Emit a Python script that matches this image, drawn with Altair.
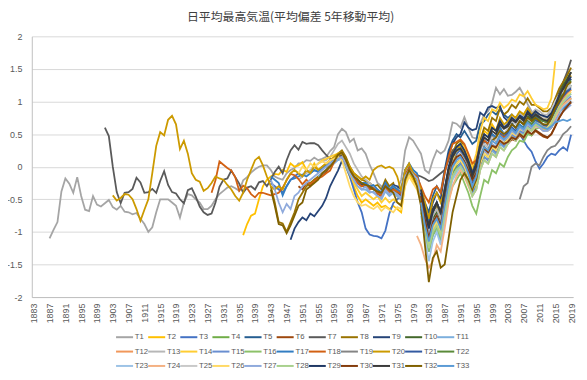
import altair as alt
import pandas as pd

# ---------------- data ----------------
names = ["T%d" % i for i in range(1, 34)]
colors = ["#A5A5A5", "#FFC000", "#4472C4", "#70AD47", "#255E91", "#9E480E", "#5A5A5A",
          "#997300", "#264478", "#43682B", "#7CAFDD", "#F1975A", "#B7B7B7", "#FFCD33",
          "#698ED0", "#8CC168", "#327DC2", "#D26012", "#848484", "#CC9A00", "#335AA1",
          "#5A8A39", "#9DC3E6", "#F4B183", "#C9C9C9", "#FFD966", "#8FAADC", "#A9D18E",
          "#1F3864", "#843C0C", "#3A3A3A", "#7F6000", "#5B9BD5"]

tick_years = [1883, 1887, 1891, 1895, 1899, 1903, 1907, 1911, 1915, 1919, 1923, 1927,
              1931, 1935, 1939, 1943, 1947, 1951, 1955, 1959, 1963, 1967, 1971, 1975,
              1979, 1983, 1987, 1991, 1995, 1999, 2003, 2007, 2011, 2015, 2019]
y_ticks = [-2, -1.5, -1, -0.5, 0, 0.5, 1, 1.5, 2]

start_year = {"T1": 1887, "T2": 1936, "T3": 1943, "T4": 1981, "T5": 1960, "T6": 1950,
              "T7": 1901, "T8": 1943, "T9": 1948, "T10": 1981, "T11": 1955, "T12": 1981,
              "T13": 1950, "T14": 1955, "T15": 1981, "T16": 1981, "T17": 1943, "T18": 1928,
              "T19": 2006, "T20": 1903, "T21": 1982, "T22": 1982, "T23": 1981, "T24": 1980,
              "T25": 1981, "T26": 1950, "T27": 1943, "T28": 1982, "T29": 1981, "T30": 1981,
              "T31": 1981, "T32": 1943, "T33": 1981}

t1 = [-1.10, -0.97, -0.85,
      -0.38, -0.18, -0.26, -0.40, -0.16, -0.45, -0.66, -0.68, -0.45, -0.58,
      -0.61, -0.56, -0.51, -0.62, -0.66, -0.60, -0.69, -0.70, -0.73, -0.71,
      -0.80, -0.88, -1.00, -0.93, -0.70, -0.50, -0.50, -0.50, -0.55, -0.60,
      -0.78, -0.55, -0.42, -0.44, -0.50, -0.55, -0.65, -0.65, -0.60, -0.50,
      -0.42, -0.37, -0.32, -0.30, -0.33, -0.37, -0.21, -0.16, -0.09, -0.04,
      0.00, 0.02, 0.02, -0.05, -0.15, -0.18, -0.20, -0.10, -0.05, -0.02,
      0.05, 0.05, 0.10, 0.09, 0.14, 0.10, 0.12, 0.15, 0.24, 0.30,
      0.50, 0.58, 0.53, 0.38, 0.43, 0.25, 0.28, 0.20, 0.03, -0.10,
      -0.25, -0.30, -0.35, -0.40, -0.38, -0.35, -0.20, 0.25, 0.45, 0.40,
      0.30, 0.20, -0.05, -0.10, 0.10, 0.25, 0.20, 0.25, 0.40, 0.68,
      0.66, 0.60, 0.76, 0.60, 0.45, 0.43, 0.66, 0.80, 0.85, 0.98,
      1.21, 1.11, 1.19, 1.09, 1.10, 1.15, 1.21, 1.10, 0.96, 0.85,
      0.80, 0.78, 0.75, 0.72, 0.70, 0.85, 0.95, 1.05, 1.15, 1.22]
t2 = [-1.05, -0.88, -0.75, -0.72,
      -0.50, -0.30, -0.20, -0.15, -0.11, -0.12, -0.05, -0.08, 0.05, 0.00,
      0.02, 0.07, -0.05, -0.09, 0.05, -0.05, 0.00, 0.05, 0.10, 0.12,
      0.18, 0.20, 0.00, -0.15, -0.30, -0.45, -0.55, -0.50, -0.55, -0.60,
      -0.55, -0.62, -0.60, -0.65, -0.60, -0.65, -0.70, -0.25, -0.10, -0.20,
      -0.30, -0.50, -0.80, -1.10, -0.80, -0.70, -0.90, -0.55, -0.20, 0.05,
      0.20, 0.30, 0.20, 0.00, -0.20, 0.00, 0.35, 0.55, 0.50, 0.65,
      0.55, 0.70, 0.62, 0.68, 0.78, 0.74, 0.84, 0.80, 0.90, 0.82,
      0.80, 0.78, 0.74, 0.74, 0.85, 0.90, 0.98, 1.05, 1.12, 1.18]
t3 = [-0.25, -0.30, -0.35, -0.40, -0.30, -0.20, -0.15,
      -0.10, -0.15, -0.05, -0.10, -0.05, -0.08, -0.02, 0.00, 0.05, 0.10,
      0.15, 0.15, 0.00, -0.15, -0.35, -0.55, -0.70, -0.95, -1.04, -1.06,
      -1.07, -1.10, -0.98, -0.72, -0.56, -0.50, -0.45, -0.15, -0.05, -0.10,
      -0.15, -0.40, -0.70, -0.95, -0.70, -0.55, -0.75, -0.40, -0.10, 0.10,
      0.20, 0.25, 0.15, 0.00, -0.20, -0.05, 0.25, 0.40, 0.35, 0.50,
      0.45, 0.55, 0.50, 0.55, 0.60, 0.55, 0.50, 0.40, 0.30, 0.23,
      0.08, -0.03, 0.05, 0.15, 0.20, 0.18, 0.25, 0.30, 0.25, 0.49]
t4 = [-0.55, -0.90, -1.20, -0.95, -0.85, -1.00, -0.70, -0.35, -0.10, 0.00,
      0.05, -0.05, -0.20, -0.40, -0.30, 0.00, 0.15, 0.10, 0.25, 0.20,
      0.35, 0.30, 0.40, 0.50, 0.45, 0.55, 0.50, 0.65, 0.60, 0.70,
      0.68, 0.65, 0.62, 0.70, 0.85, 1.00, 1.10, 1.20, 1.25]
t5 = [0.10, 0.15, 0.05, -0.05, -0.15, -0.22, -0.30, -0.28, -0.32, -0.35,
      -0.38, -0.42, -0.28, -0.38, -0.32, -0.38, -0.45, -0.10, 0.00, -0.05,
      -0.15, -0.35, -0.55, -0.70, -0.45, -0.30, -0.40, -0.05, 0.25, 0.40,
      0.50, 0.45, 0.55, 0.45, 0.35, 0.40, 0.65, 0.70, 0.80, 0.85,
      0.80, 0.88, 0.80, 0.75, 0.80, 0.72, 0.75, 0.70, 0.78, 0.72,
      0.78, 0.72, 0.70, 0.70, 0.75, 0.88, 1.00, 1.10, 1.18, 1.25]
t6 = [-0.30, -0.35, -0.25, -0.30, -0.20, -0.18, -0.12, -0.08, 0.00, 0.08,
      0.15, 0.12, 0.02, -0.10, -0.20, -0.25, -0.30, -0.28, -0.35, -0.32,
      -0.42, -0.45, -0.30, -0.42, -0.35, -0.40, -0.48, -0.15, -0.05, -0.15,
      -0.25, -0.45, -0.80, -1.10, -0.85, -0.75, -0.90, -0.55, -0.20, 0.05,
      0.15, 0.20, 0.10, -0.05, -0.20, -0.10, 0.15, 0.25, 0.20, 0.30,
      0.28, 0.38, 0.32, 0.35, 0.42, 0.40, 0.48, 0.44, 0.52, 0.48,
      0.55, 0.50, 0.46, 0.44, 0.50, 0.62, 0.75, 0.85, 0.92, 0.98]
t7 = [0.60, 0.47, 0.00, -0.39, -0.56, -0.40, -0.39, -0.34, -0.17,
      -0.24, -0.40, -0.39, -0.34, -0.40, -0.22, -0.07, -0.28, -0.39, -0.41,
      -0.50, -0.56, -0.36, -0.33, -0.46, -0.61, -0.70, -0.74, -0.72, -0.55,
      -0.31, -0.20, -0.18, -0.06, -0.16, -0.26, -0.40, -0.32, -0.30, -0.35,
      -0.24, -0.22, -0.30, -0.20, -0.08, 0.00, -0.10, 0.10, 0.25, 0.33,
      0.26, 0.38, 0.35, 0.36, 0.36, 0.33, 0.25, 0.18, 0.12, 0.10,
      0.15, 0.18, 0.10, -0.05, -0.15, -0.22, -0.28, -0.25, -0.32, -0.30,
      -0.38, -0.40, -0.25, -0.35, -0.30, -0.35, -0.40, -0.10, 0.00, -0.08,
      -0.13, -0.15, -0.18, -0.22, -0.20, -0.15, -0.10, -0.05, 0.10, 0.25,
      0.30, 0.35, 0.25, 0.10, -0.05, 0.05, 0.30, 0.40, 0.35, 0.50,
      0.45, 0.60, 0.50, 0.55, 0.65, 0.60, 0.70, 0.65, 0.80, 0.70,
      0.80, 0.75, 0.70, 0.68, 0.75, 0.95, 1.15, 1.30, 1.45, 1.64]
t8 = [-0.30, -0.55, -0.85, -0.87, -1.00, -0.85, -0.70,
      -0.50, -0.40, -0.30, -0.25, -0.20, -0.15, -0.10, -0.05, 0.05, 0.10,
      0.20, 0.25, 0.15, 0.00, -0.10, -0.15, -0.20, -0.22, -0.25, -0.30,
      -0.28, -0.35, -0.20, -0.30, -0.25, -0.45, -0.50, -0.15, 0.00, -0.05,
      -0.15, -0.35, -0.70, -1.00, -0.70, -0.60, -0.75, -0.35, -0.05, 0.20,
      0.35, 0.40, 0.30, 0.15, -0.05, 0.10, 0.40, 0.60, 0.55, 0.75,
      0.70, 0.90, 0.80, 0.85, 0.95, 0.90, 1.00, 0.95, 1.05, 0.95,
      0.95, 0.90, 0.85, 0.85, 0.90, 1.05, 1.20, 1.30, 1.40, 1.52]
t9 = [-1.12, -0.95,
      -0.85, -0.78, -0.82, -0.72, -0.76, -0.68, -0.60, -0.48, -0.30, -0.18,
      -0.06, 0.09, 0.10, -0.05, -0.15, -0.20, -0.28, -0.30, -0.35, -0.30,
      -0.40, -0.38, -0.25, -0.35, -0.28, -0.30, -0.35, -0.05, 0.02, -0.10,
      -0.20, -0.35, -0.60, -0.80, -0.55, -0.40, -0.50, -0.10, 0.20, 0.35,
      0.45, 0.50, 0.68, 0.60, 0.56, 0.58, 0.83, 0.78, 0.91, 0.93,
      0.90, 0.93, 0.76, 0.70, 0.66, 0.70, 0.80, 0.75, 0.85, 0.78,
      0.82, 0.78, 0.75, 0.75, 0.80, 0.95, 1.05, 1.15, 1.25, 1.35]
t10 = [-0.45, -0.75, -1.05, -0.80, -0.70, -0.85, -0.55, -0.20, 0.05, 0.15,
       0.20, 0.10, -0.05, -0.25, -0.10, 0.20, 0.35, 0.30, 0.45, 0.40,
       0.55, 0.50, 0.55, 0.65, 0.60, 0.70, 0.65, 0.78, 0.72, 0.80,
       0.76, 0.72, 0.70, 0.78, 0.95, 1.10, 1.25, 1.35, 1.45]
t11 = [-0.15, -0.10, -0.05, 0.00, 0.05,
       0.10, 0.12, 0.00, -0.12, -0.22, -0.30, -0.35, -0.35, -0.40, -0.38,
       -0.45, -0.50, -0.38, -0.45, -0.40, -0.45, -0.50, -0.20, -0.08, -0.15,
       -0.25, -0.55, -0.95, -1.30, -1.05, -0.95, -1.15, -0.75, -0.40, -0.15,
       -0.05, 0.05, -0.05, -0.20, -0.40, -0.30, 0.00, 0.15, 0.10, 0.25,
       0.20, 0.35, 0.30, 0.38, 0.48, 0.44, 0.54, 0.50, 0.62, 0.58,
       0.66, 0.64, 0.60, 0.58, 0.66, 0.80, 0.92, 1.00, 1.06, 1.12]
t12 = [-0.60, -0.95, -1.25, -1.00, -0.90, -1.05, -0.65, -0.30, -0.05, 0.05,
       0.10, 0.00, -0.15, -0.30, -0.20, 0.10, 0.25, 0.20, 0.35, 0.30,
       0.45, 0.40, 0.45, 0.55, 0.50, 0.60, 0.55, 0.68, 0.62, 0.70,
       0.66, 0.62, 0.60, 0.68, 0.82, 0.95, 1.05, 1.12, 1.18]
t13 = [-0.20, -0.15, -0.10, -0.05, 0.00, 0.05, 0.08, 0.10, 0.15, 0.25,
       0.35, 0.40, 0.30, 0.20, 0.05, -0.05, -0.15, -0.20, -0.25, -0.30,
       -0.35, -0.40, -0.28, -0.35, -0.30, -0.35, -0.40, -0.10, 0.05, -0.05,
       -0.15, -0.40, -0.75, -1.00, -0.75, -0.65, -0.80, -0.45, -0.10, 0.15,
       0.25, 0.30, 0.20, 0.05, -0.10, 0.05, 0.35, 0.50, 0.45, 0.60,
       0.55, 0.70, 0.62, 0.68, 0.78, 0.72, 0.82, 0.78, 0.88, 0.82,
       0.88, 0.85, 0.80, 0.80, 0.88, 1.00, 1.10, 1.15, 1.20, 1.25]
t14 = [0.05, 0.10, 0.12, 0.15, 0.18,
       0.20, 0.22, 0.05, -0.10, -0.25, -0.35, -0.45, -0.40, -0.45, -0.50,
       -0.45, -0.55, -0.48, -0.55, -0.50, -0.55, -0.58, -0.20, -0.05, -0.15,
       -0.25, -0.50, -0.85, -1.15, -0.90, -0.80, -0.95, -0.55, -0.15, 0.10,
       0.25, 0.35, 0.30, 0.15, 0.00, 0.20, 0.55, 0.75, 0.70, 0.88,
       0.85, 0.98, 0.90, 0.95, 1.03, 1.00, 1.11, 1.08, 1.16, 1.05,
       0.95, 0.92, 0.88, 0.90, 1.05, 1.62]
t15 = [-0.65, -1.00, -1.30, -1.05, -0.95, -1.10, -0.75, -0.40, -0.15, -0.05,
       0.05, -0.05, -0.20, -0.40, -0.30, 0.00, 0.15, 0.10, 0.28, 0.22,
       0.38, 0.32, 0.40, 0.50, 0.45, 0.55, 0.52, 0.62, 0.58, 0.66,
       0.62, 0.58, 0.56, 0.62, 0.75, 0.88, 0.96, 1.02, 1.08]
t16 = [-0.70, -1.00, -1.30, -1.05, -0.95, -1.10, -0.85, -0.50, -0.30, -0.20,
       -0.10, -0.25, -0.40, -0.60, -0.72, -0.45, -0.20, -0.25, -0.05, -0.10,
       0.05, 0.00, 0.15, 0.25, 0.30, 0.40, 0.38, 0.50, 0.48, 0.58,
       0.60, 0.58, 0.55, 0.60, 0.75, 0.85, 0.95, 1.00, 1.05]
t17 = [-0.15, -0.20, -0.25, -0.44, -0.30, -0.20, -0.18,
       -0.15, -0.12, -0.15, -0.10, -0.05, -0.08, 0.00, 0.02, 0.05, 0.10,
       0.15, 0.15, 0.05, -0.05, -0.15, -0.22, -0.25, -0.25, -0.30, -0.28,
       -0.35, -0.40, -0.25, -0.35, -0.30, -0.35, -0.40, -0.05, 0.05, -0.05,
       -0.10, -0.35, -0.65, -0.85, -0.65, -0.55, -0.70, -0.35, -0.05, 0.15,
       0.25, 0.30, 0.20, 0.05, -0.15, 0.00, 0.30, 0.45, 0.40, 0.50,
       0.45, 0.60, 0.50, 0.55, 0.65, 0.60, 0.65, 0.60, 0.70, 0.65,
       0.70, 0.65, 0.60, 0.60, 0.65, 0.75, 0.85, 0.90, 0.95, 1.00]
t18 = [-0.40, -0.21,
       0.08, 0.03, -0.02, -0.06, -0.16, -0.37, -0.29, -0.33, -0.42, -0.47,
       -0.40, -0.40, -0.42, -0.44, -0.42, -0.40, -0.32, -0.21, -0.11, -0.13,
       -0.19, -0.27, -0.20, -0.27, -0.22, -0.18, -0.15, -0.10, -0.06, 0.07,
       0.14, 0.15, 0.05, -0.05, -0.15, -0.25, -0.30, -0.28, -0.35, -0.33,
       -0.40, -0.45, -0.30, -0.40, -0.35, -0.38, -0.42, -0.12, -0.02, -0.10,
       -0.15, -0.30, -0.45, -0.55, -0.35, -0.30, -0.40, -0.10, 0.15, 0.35,
       0.38, 0.42, 0.35, 0.20, 0.05, 0.10, 0.30, 0.40, 0.35, 0.45,
       0.40, 0.50, 0.45, 0.50, 0.55, 0.50, 0.60, 0.55, 0.65, 0.60,
       0.65, 0.60, 0.55, 0.55, 0.60, 0.70, 0.85, 0.95, 1.00, 1.05]
t19 = [-0.50, -0.30, -0.25, 0.00, 0.05, 0.02, 0.15, 0.25, 0.30, 0.32, 0.40, 0.50, 0.55, 0.62]
t20 = [-0.44, -0.52, -0.48, -0.42, -0.43, -0.50, -0.65,
       -0.83, -0.66, -0.50, -0.10, 0.32, 0.53, 0.48, 0.72, 0.78, 0.65,
       0.27, 0.40, 0.20, -0.10, -0.20, -0.23, -0.37, -0.33, -0.25, -0.15,
       -0.18, -0.20, -0.28, -0.35, -0.45, -0.52, -0.40, -0.20, -0.05, 0.10,
       0.15, 0.02, -0.15, -0.30, -0.35, -0.30, -0.35, -0.20, -0.10, -0.05,
       -0.10, -0.15, -0.05, -0.10, 0.00, -0.05, 0.00, 0.05, 0.10, 0.15,
       0.20, 0.22, 0.10, 0.00, -0.10, -0.15, -0.20, -0.15, -0.20, -0.05,
       0.00, 0.02, -0.02, 0.00, -0.03, -0.15, -0.38, -0.05, 0.05, -0.10,
       -0.20, -0.35, -0.55, -0.80, -0.50, -0.40, -0.55, -0.35, -0.05, 0.20,
       0.30, 0.30, 0.20, 0.05, -0.15, 0.00, 0.35, 0.50, 0.45, 0.60,
       0.55, 0.75, 0.65, 0.70, 0.80, 0.75, 0.85, 0.80, 0.90, 0.80,
       0.85, 0.80, 0.75, 0.75, 0.80, 0.95, 1.10, 1.20, 1.30, 1.40]
t21 = [-0.80, -1.15, -0.85, -0.75, -0.90, -0.55, -0.20, 0.05, 0.15,
       0.20, 0.10, -0.05, -0.25, -0.10, 0.20, 0.35, 0.30, 0.45, 0.40,
       0.52, 0.48, 0.52, 0.60, 0.55, 0.62, 0.58, 0.70, 0.65, 0.72,
       0.68, 0.64, 0.62, 0.70, 0.85, 0.98, 1.08, 1.15, 1.20]
t22 = [-0.70, -1.10, -0.85, -0.80, -0.95, -0.60, -0.30, -0.05, 0.05,
       0.10, 0.00, -0.15, -0.35, -0.25, 0.05, 0.20, 0.15, 0.30, 0.25,
       0.40, 0.35, 0.45, 0.55, 0.50, 0.62, 0.58, 0.70, 0.65, 0.75,
       0.72, 0.70, 0.68, 0.75, 0.90, 1.05, 1.15, 1.25, 1.32]
t23 = [-0.75, -1.10, -1.45, -1.15, -1.00, -1.20, -0.85, -0.45, -0.20, -0.10,
       0.00, -0.10, -0.25, -0.45, -0.35, -0.05, 0.10, 0.05, 0.20, 0.15,
       0.30, 0.25, 0.35, 0.45, 0.40, 0.50, 0.45, 0.58, 0.55, 0.62,
       0.60, 0.55, 0.55, 0.62, 0.75, 0.85, 0.92, 0.98, 1.02]
t24 = [-1.06,
       -1.20, -1.41, -1.55, -1.45, -1.20, -1.30, -0.95, -0.55, -0.30, -0.15,
       -0.05, -0.15, -0.30, -0.45, -0.35, -0.05, 0.10, 0.05, 0.20, 0.15,
       0.30, 0.25, 0.35, 0.45, 0.40, 0.50, 0.45, 0.58, 0.55, 0.62,
       0.60, 0.56, 0.55, 0.62, 0.75, 0.88, 0.95, 1.00, 1.05]
t25 = [-0.50, -0.85, -1.10, -0.85, -0.75, -0.90, -0.55, -0.20, 0.05, 0.15,
       0.20, 0.10, -0.05, -0.20, -0.10, 0.20, 0.35, 0.30, 0.45, 0.40,
       0.55, 0.50, 0.60, 0.70, 0.65, 0.75, 0.70, 0.82, 0.76, 0.85,
       0.80, 0.75, 0.75, 0.85, 1.00, 1.10, 1.15, 1.20, 1.25]
t26 = [-0.10, 0.00, -0.05, 0.05, 0.00, 0.05, 0.08, 0.05, 0.10, 0.12,
       0.15, 0.10, -0.10, -0.30, -0.45, -0.55, -0.60, -0.58, -0.62, -0.65,
       -0.60, -0.68, -0.62, -0.66, -0.70, -0.62, -0.65, -0.30, -0.15, -0.25,
       -0.35, -0.55, -0.90, -1.20, -0.95, -0.85, -1.00, -0.65, -0.30, -0.05,
       0.05, 0.10, 0.00, -0.15, -0.35, -0.25, 0.05, 0.20, 0.15, 0.30,
       0.25, 0.40, 0.35, 0.42, 0.52, 0.48, 0.58, 0.55, 0.65, 0.60,
       0.68, 0.65, 0.60, 0.60, 0.68, 0.80, 0.92, 1.00, 1.08, 1.15]
t27 = [-0.20, -0.35, -0.55, -0.70, -0.57, -0.65, -0.45,
       -0.40, -0.30, -0.25, -0.20, -0.15, -0.10, -0.05, 0.00, 0.05, 0.10,
       0.12, 0.15, 0.05, -0.10, -0.20, -0.30, -0.35, -0.30, -0.38, -0.40,
       -0.45, -0.48, -0.35, -0.42, -0.38, -0.42, -0.48, -0.15, -0.05, -0.12,
       -0.18, -0.45, -0.80, -1.05, -0.85, -0.75, -0.95, -0.60, -0.25, 0.00,
       0.10, 0.15, 0.05, -0.10, -0.30, -0.20, 0.10, 0.25, 0.20, 0.35,
       0.30, 0.45, 0.40, 0.45, 0.55, 0.50, 0.60, 0.55, 0.65, 0.60,
       0.65, 0.60, 0.55, 0.55, 0.60, 0.70, 0.80, 0.85, 0.90, 0.95]
t28 = [-0.85, -1.25, -1.00, -0.90, -1.05, -0.75, -0.40, -0.15, -0.05,
       0.00, -0.10, -0.25, -0.45, -0.35, -0.05, 0.10, 0.05, 0.20, 0.15,
       0.30, 0.25, 0.35, 0.45, 0.40, 0.50, 0.48, 0.60, 0.55, 0.65,
       0.62, 0.60, 0.58, 0.65, 0.80, 0.90, 1.00, 1.08, 1.12]
t29 = [-0.40, -0.70, -0.95, -0.70, -0.55, -0.70, -0.35, 0.00, 0.20, 0.30,
       0.35, 0.25, 0.10, -0.10, 0.05, 0.35, 0.50, 0.45, 0.60, 0.55,
       0.70, 0.60, 0.65, 0.75, 0.70, 0.78, 0.72, 0.85, 0.78, 0.85,
       0.80, 0.78, 0.76, 0.82, 0.95, 1.10, 1.20, 1.30, 1.38]
t30 = [-0.45, -0.80, -1.10, -0.85, -0.75, -0.90, -0.55, -0.20, 0.05, 0.15,
       0.18, 0.08, -0.05, -0.20, -0.10, 0.15, 0.28, 0.22, 0.32, 0.30,
       0.40, 0.35, 0.38, 0.45, 0.42, 0.50, 0.45, 0.55, 0.50, 0.56,
       0.52, 0.48, 0.45, 0.50, 0.62, 0.75, 0.85, 0.92, 1.00]
t31 = [-0.35, -0.65, -0.90, -0.65, -0.55, -0.70, -0.40, -0.05, 0.15, 0.25,
       0.28, 0.18, 0.05, -0.15, 0.00, 0.30, 0.45, 0.40, 0.55, 0.50,
       0.65, 0.58, 0.62, 0.72, 0.68, 0.76, 0.70, 0.82, 0.75, 0.80,
       0.76, 0.72, 0.70, 0.78, 0.92, 1.08, 1.20, 1.32, 1.45]
t32 = [-0.35, -0.60, -0.88, -0.90, -1.02, -0.90, -0.75,
       -0.60, -0.55, -0.35, -0.30, -0.25, -0.20, -0.10, -0.05, 0.00, 0.08,
       0.18, 0.22, 0.10, -0.05, -0.15, -0.20, -0.25, -0.28, -0.30, -0.35,
       -0.38, -0.40, -0.30, -0.35, -0.40, -0.55, -0.60, -0.20, -0.05, -0.15,
       -0.30, -0.60, -1.20, -1.77, -1.40, -1.30, -1.55, -1.50, -1.10, -0.70,
       -0.45, -0.20, -0.10, -0.20, -0.35, -0.20, 0.10, 0.30, 0.25, 0.40,
       0.45, 0.55, 0.50, 0.55, 0.65, 0.60, 0.70, 0.65, 0.75, 0.70,
       0.75, 0.70, 0.65, 0.65, 0.75, 0.90, 1.00, 1.10, 1.25, 1.30]
t33 = [-0.55, -0.90, -1.15, -0.90, -0.80, -0.95, -0.60, -0.25, 0.00, 0.10,
       0.15, 0.05, -0.10, -0.30, -0.15, 0.15, 0.30, 0.25, 0.40, 0.35,
       0.48, 0.42, 0.48, 0.58, 0.52, 0.62, 0.58, 0.68, 0.62, 0.68,
       0.64, 0.60, 0.58, 0.62, 0.68, 0.70, 0.72, 0.70, 0.73]

values = [t1, t2, t3, t4, t5, t6, t7, t8, t9, t10, t11, t12, t13, t14, t15, t16, t17,
          t18, t19, t20, t21, t22, t23, t24, t25, t26, t27, t28, t29, t30, t31, t32, t33]

rows = []
for name, vals in zip(names, values):
    y0 = start_year[name]
    for i, v in enumerate(vals):
        rows.append({"series": name, "year": y0 + i, "value": v})
df = pd.DataFrame(rows)

# legend table (11 entries per row, 3 rows), built from the series names
LEG_COLS = 11
legend_df = pd.DataFrame({
    "series": names,
    "col": [i % LEG_COLS for i in range(len(names))],
    "row": [i // LEG_COLS for i in range(len(names))],
})
legend_df["col_end"] = legend_df["col"] + 0.53
legend_df["col_text"] = legend_df["col"] + 0.585

FONT = "Liberation Sans"
GRAY = "#595959"
color_scale = alt.Scale(domain=names, range=colors)
leg_x = alt.Scale(domain=[0, LEG_COLS], range=[85, 85 + LEG_COLS * 32.4])
leg_y = alt.Scale(domain=[0, 2], range=[303.5, 332.5])

lines = alt.Chart(df).mark_line(strokeWidth=1.8).encode(
    x=alt.X("year:Q",
            scale=alt.Scale(domain=[1882.5, 2019.5], nice=False, zero=False),
            axis=alt.Axis(values=tick_years, format="d", labelAngle=-90, ticks=False,
                          grid=False, title=None, labelFontSize=9, labelColor=GRAY,
                          labelFont=FONT, domainColor="#BFBFBF", domainWidth=1,
                          labelPadding=6)),
    y=alt.Y("value:Q",
            scale=alt.Scale(domain=[-2, 2], nice=False, zero=False),
            axis=alt.Axis(values=y_ticks, labelExpr="'' + datum.value", grid=True,
                          gridColor="#D9D9D9", gridWidth=1, ticks=False, title=None,
                          domainColor="#BFBFBF", labelPadding=10, labelFontSize=9,
                          labelColor=GRAY, labelFont=FONT)),
    color=alt.Color("series:N", scale=color_scale, legend=None),
    order=alt.Order("year:Q"),
)

leg_sym = alt.Chart(legend_df).mark_rule(strokeWidth=2).encode(
    x=alt.X("col:Q", scale=leg_x, axis=None),
    x2="col_end:Q",
    y=alt.Y("row:Q", scale=leg_y, axis=None),
    color=alt.Color("series:N", scale=color_scale, legend=None),
)

leg_txt = alt.Chart(legend_df).mark_text(align="left", baseline="middle", fontSize=7.8,
                                         font=FONT, color=GRAY).encode(
    x=alt.X("col_text:Q", scale=leg_x, axis=None),
    y=alt.Y("row:Q", scale=leg_y, axis=None),
    text="series:N",
)

chart = alt.layer(lines, leg_sym, leg_txt).resolve_scale(
    x="independent", y="independent"
).properties(
    width=546,
    height=263,
    title=alt.TitleParams(text="日平均最高気温(平均偏差 5年移動平均)", fontSize=12,
                          font="Noto Sans CJK JP", fontWeight="normal", color="#404040",
                          offset=8, dx=-12, anchor="middle", frame="group"),
    autosize=alt.AutoSizeParams(type="none"),
    padding={"left": 24, "top": 27, "right": 6, "bottom": 73},
).configure_view(stroke=None)

chart.save("out.html", embed_options={"renderer": "svg", "actions": False})
